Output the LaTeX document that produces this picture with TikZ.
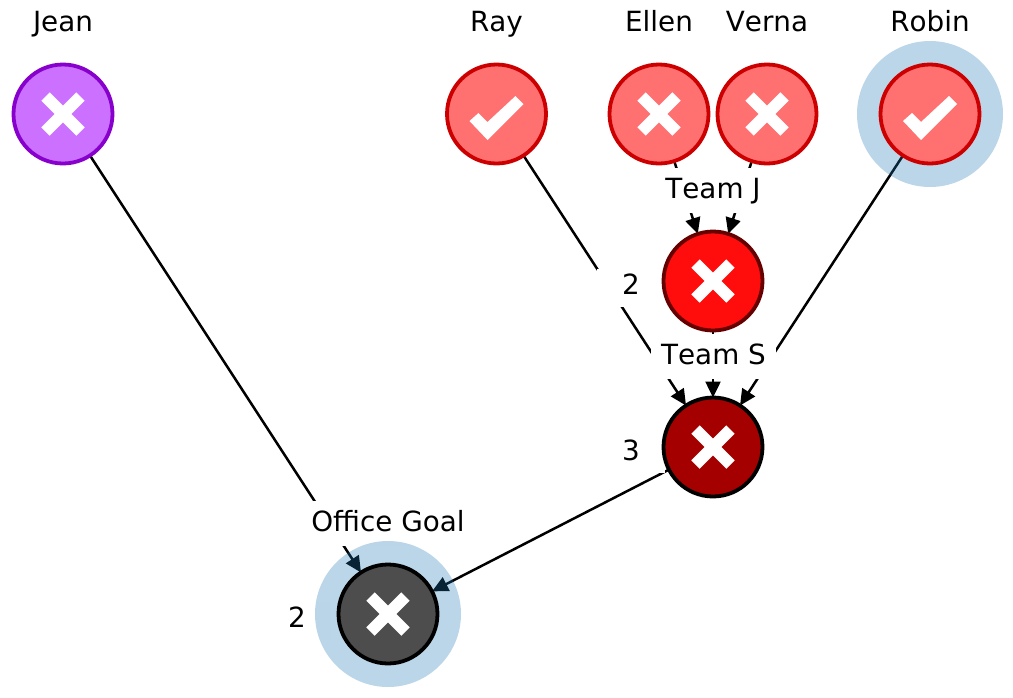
\documentclass[tikz,border=0pt]{standalone}
\usepackage{fontspec}
\setmainfont[Kerning=Off]{DejaVu Sans}
\usetikzlibrary{arrows.meta}
\pgfdeclarelayer{edgelayer}
\pgfdeclarelayer{boxlayer}
\pgfdeclarelayer{halolayer}
\pgfsetlayers{edgelayer,boxlayer,halolayer,main}
\definecolor{halocol}{HTML}{1F77B4}
\definecolor{purplefill}{HTML}{CC70FF}
\definecolor{purpleline}{HTML}{8800CC}
\definecolor{pinkfill}{HTML}{FF7070}
\definecolor{pinkline}{HTML}{CC0000}
\definecolor{redfill}{HTML}{FF0D0D}
\definecolor{redline}{HTML}{660000}
\definecolor{darkredfill}{HTML}{A50000}
\definecolor{greyfill}{HTML}{4D4D4D}
\tikzset{
  x=1pt,y=-1pt,
  labelfont/.style={font=\fontsize{27.8}{32}\selectfont},
  state/.style={circle,draw,line width=3.8pt,minimum size=99pt,inner sep=0pt,outer sep=0pt},
  halo/.style={circle,fill=halocol,fill opacity=0.3,minimum size=146pt,inner sep=0pt,outer sep=0pt},
  nametext/.style={labelfont,anchor=base,inner sep=0pt},
  boxlabel/.style={labelfont,anchor=base,fill=white,inner ysep=0pt,inner xsep=10pt,outer sep=0pt,text height=30pt,text depth=15pt},
  countlabel/.style={labelfont,anchor=base,fill=white,inner ysep=0pt,inner xsep=0pt,outer sep=0pt,minimum width=68pt,text height=25pt,text depth=13pt},
  edge/.style={draw=black,line width=2.5pt,-{Triangle[length=16pt,width=15pt]}},
  crossmark/.pic={\draw[white,line width=12pt] (-17.5,-17.5)--(17.5,17.5) (-17.5,17.5)--(17.5,-17.5);},
  checkmark/.pic={\fill[white] (-27,7)--(-18,-1)--(-9,8)--(19,-18)--(27,-10)--(-9,26)--cycle;},
}
\begin{document}
\begin{tikzpicture}
\useasboundingbox (0,0) rectangle (1013,697);
% states
\node[state,draw=purpleline,fill=purplefill] (jean) at (63,114) {};
\node[state,draw=pinkline,fill=pinkfill] (ray) at (496.5,114) {};
\node[state,draw=pinkline,fill=pinkfill] (ellen) at (659,114) {};
\node[state,draw=pinkline,fill=pinkfill] (verna) at (767,114) {};
\node[state,draw=pinkline,fill=pinkfill] (robin) at (930,114) {};
\node[state,draw=redline,fill=redfill] (teamj) at (713,281) {};
\node[state,draw=black,fill=darkredfill] (teams) at (713,447) {};
\node[state,draw=black,fill=greyfill] (office) at (388,614) {};
\pic at (jean) {crossmark};
\pic at (ray) {checkmark};
\pic at (ellen) {crossmark};
\pic at (verna) {crossmark};
\pic at (robin) {checkmark};
\pic at (teamj) {crossmark};
\pic at (teams) {crossmark};
\pic at (office) {crossmark};
% names
\node[nametext] (njean) at (63,31) {Jean};
\node[nametext] (nray) at (496.5,31) {Ray};
\node[nametext] (nellen) at (659,31) {Ellen};
\node[nametext] (nverna) at (767,31) {Verna};
\node[nametext] (nrobin) at (930,31) {Robin};
% halos
\begin{pgfonlayer}{halolayer}
\node[halo] (halorobin) at (930,114) {};
\node[halo] (halooffice) at (388,614) {};
\end{pgfonlayer}
% white-backed labels
\begin{pgfonlayer}{boxlayer}
\node[boxlabel] (ljteam) at (713,198) {Team J};
\node[boxlabel] (lsteam) at (713.5,364) {Team S};
\node[boxlabel] (lgoal) at (388,531) {Office Goal};
\node[countlabel] (cj) at (631,294) {2};
\node[countlabel] (cs) at (631,460) {3};
\node[countlabel] (cg) at (297,627) {2};
\end{pgfonlayer}
% connectors
\begin{pgfonlayer}{edgelayer}
\draw[edge] (jean) -- (office);
\draw[edge] (ray) -- (teams);
\draw[edge] (ellen) -- (teamj);
\draw[edge] (verna) -- (teamj);
\draw[edge] (robin) -- (teams);
\draw[edge] (teamj) -- (teams);
\draw[edge] (teams) -- (office);
\end{pgfonlayer}
\end{tikzpicture}
\end{document}
